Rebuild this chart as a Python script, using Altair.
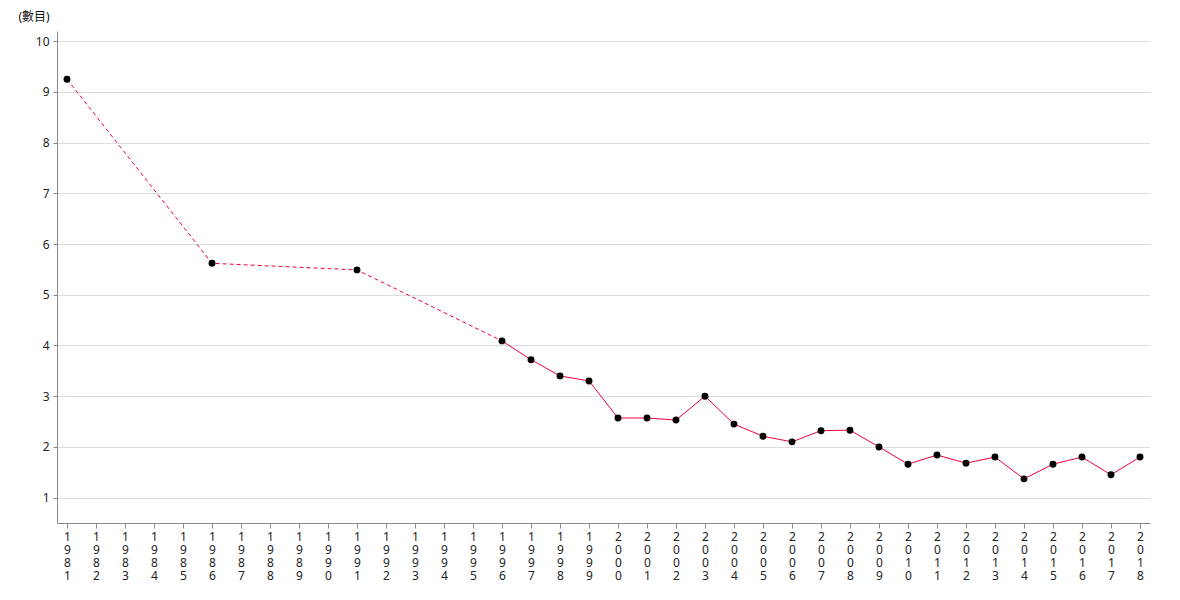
import altair as alt
import pandas as pd

years = [1981, 1986, 1991, 1996, 1997, 1998, 1999, 2000, 2001, 2002, 2003, 2004,
         2005, 2006, 2007, 2008, 2009, 2010, 2011, 2012, 2013, 2014, 2015, 2016,
         2017, 2018]
values = [9.25, 5.62, 5.49, 4.09, 3.72, 3.40, 3.30, 2.57, 2.57, 2.53, 3.00, 2.45,
          2.21, 2.10, 2.32, 2.33, 2.00, 1.66, 1.84, 1.68, 1.80, 1.37, 1.66, 1.80,
          1.45, 1.80]
all_years = [str(y) for y in range(1981, 2019)]

df = pd.DataFrame({"year": [str(y) for y in years], "value": values})
df_dash = df[df["year"].astype(int) <= 1996]
df_solid = df[df["year"].astype(int) >= 1996]

FONT = "Noto Sans, Noto Sans CJK TC, sans-serif"

x = alt.X("year:O", sort=all_years,
          scale=alt.Scale(domain=all_years, type="point", padding=0.345),
          axis=alt.Axis(title=None, labelAngle=0, labelExpr="split(datum.label, '')",
                        labelLineHeight=13.3, labelFontSize=12, labelColor="#222",
                        labelFont=FONT, tickSize=5, tickColor="#888", domainColor="#888",
                        labelPadding=3, grid=False))
y = alt.Y("value:Q",
          scale=alt.Scale(domain=[0.5, 10.2], nice=False, zero=False),
          axis=alt.Axis(title="(數目)", titleAngle=0, titleX=-39, titleY=-15,
                        titleAlign="left", titleBaseline="middle", titleFont=FONT,
                        titleFontSize=12, titleFontWeight="normal", titleColor="#111",
                        values=list(range(1, 11)), labelFontSize=12, labelColor="#222",
                        labelFont=FONT, tickSize=4, tickColor="#888", domainColor="#888",
                        gridColor="#dddddd", labelPadding=4))

line_dash = alt.Chart(df_dash).mark_line(color="#f0003c", strokeWidth=1,
                                         strokeDash=[4, 3]).encode(x=x, y=y)
line_solid = alt.Chart(df_solid).mark_line(color="#f0003c", strokeWidth=1).encode(x=x, y=y)
points = alt.Chart(df).mark_circle(color="black", opacity=1, size=48).encode(x=x, y=y)

chart = alt.layer(line_dash, line_solid, points).properties(
    width=1093, height=492,
    autosize=alt.AutoSizeParams(type="none"),
    padding={"left": 49, "top": 23, "right": 20, "bottom": 60},
).configure(font=FONT, view=alt.ViewConfig(stroke=None, strokeWidth=0))

chart.save("out.html", embed_options={"renderer": "svg", "actions": False})
